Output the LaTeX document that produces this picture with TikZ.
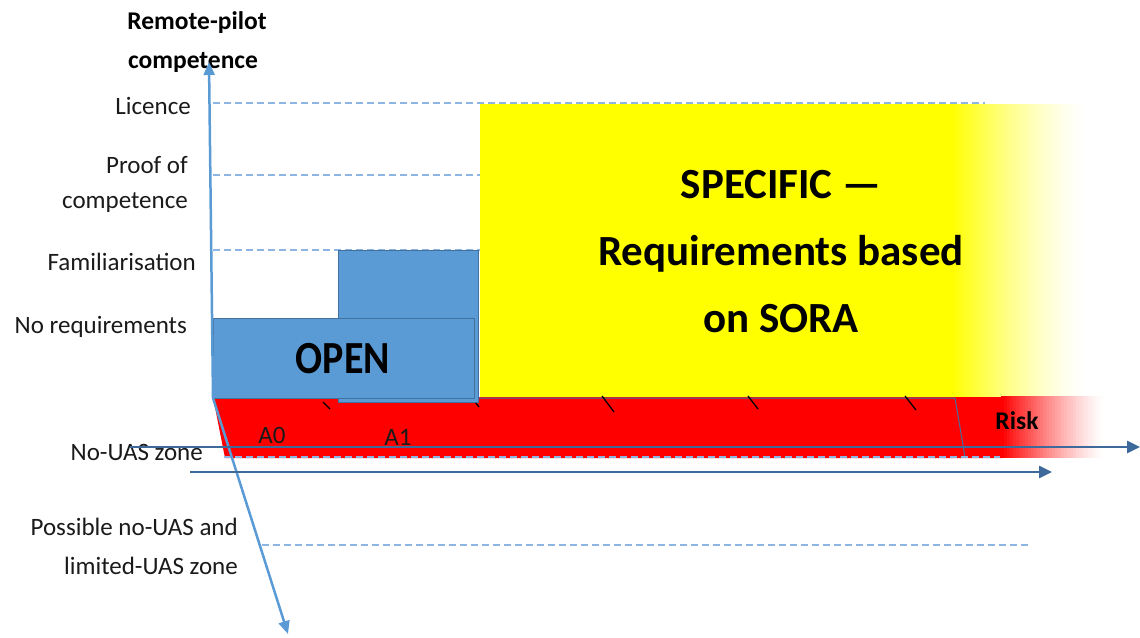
\documentclass[tikz,border=0pt]{standalone}
\usepackage{fontspec}
\setmainfont{Carlito}
\usetikzlibrary{arrows.meta}
\definecolor{boxblue}{HTML}{5B9BD5}
\definecolor{boxedge}{HTML}{41719C}
\definecolor{axisdark}{HTML}{3D6A9A}
\definecolor{axislight}{HTML}{5B9BD5}
\definecolor{dashblue}{HTML}{8DB4E2}
\definecolor{txt}{HTML}{1A1A1A}
\definecolor{syellow}{RGB}{255,255,0}
\definecolor{sred}{RGB}{255,0,0}
\tikzset{
  lbl/.style={font=\fontsize{25}{30}\selectfont, text=txt, inner sep=0pt},
  blbl/.style={font=\fontsize{25.5}{30}\selectfont\bfseries, text=black, inner sep=0pt},
  bigtxt/.style={font=\fontsize{43}{67}\selectfont\bfseries, text=black, inner sep=0pt, align=center},
  openbox/.style={draw=boxedge, fill=boxblue, line width=1.2pt, inner sep=0pt, anchor=north west},
  guide/.style={dashblue, line width=1.3pt, dash pattern=on 7pt off 4pt},
  lightaxis/.style={axislight, line width=2.5pt, -{Triangle[length=13pt,width=11pt]}},
  darkaxis/.style={axisdark, line width=2.5pt, -{Triangle[length=13pt,width=12pt]}},
  tick/.style={black, line width=1.3pt}
}
\begin{document}
\begin{tikzpicture}[x=1pt,y=-1pt]
\useasboundingbox (0,0) rectangle (1140,637);
% guide lines
\draw[guide] (213,103) -- (985,103);
\draw[guide] (213,175) -- (480,175);
\draw[guide] (213,250) -- (480,250);
% yellow SPECIFIC area
\fill[syellow] (480,104) rectangle (952,397);
\foreach \i in {0,...,45} {
  \pgfmathtruncatemacro{\pc}{100*(1-\i/45)^1.4}
  \fill[syellow!\pc!white] ({951+3*\i},104) rectangle ({954.6+3*\i},397);
}
% red risk band
\fill[sred] (213,397) -- (1002,397) -- (1002,458) -- (225,458) -- cycle;
\foreach \i in {0,...,34} {
  \pgfmathtruncatemacro{\pc}{100*(1-\i/34)^1.3}
  \fill[sred!\pc!white] ({1001+3*\i},396) rectangle ({1004.6+3*\i},458);
}
\draw[boxedge, line width=1pt] (213,398) -- (955,398) -- (965,457);
\draw[guide] (224,457) -- (1000,457);
\draw[guide] (262,545) -- (1028,545);
% ticks
\draw[tick] (323,402) -- (330,409);
\draw[tick] (475,402) -- (479,407);
\draw[tick] (602,396) -- (614,412);
\draw[tick] (748,396) -- (758,409);
\draw[tick] (905,396) -- (916,410);
% OPEN boxes
\node (a1box) [openbox, minimum width=140pt, minimum height=152pt] at (338,250) {};
\node (a0box) [openbox, minimum width=261pt, minimum height=80pt] at (213,318) {};
\node (open) [font=\fontsize{40}{46}\selectfont\bfseries, inner sep=0pt, yscale=1.15] at (343,359) {OPEN};
% SPECIFIC text
\node (spec) [bigtxt] at (781,252) {SPECIFIC —\\Requirements based\\on SORA};
% axis labels
\node (rp1) [blbl] at (197,23) {Remote-pilot};
\node (rp2) [blbl] at (193,62) {competence};
\node (lic) [lbl, anchor=east] at (191,106) {Licence};
\node (poc1) [lbl, anchor=east] at (188,165) {Proof of};
\node (poc2) [lbl, anchor=east] at (188,203) {competence};
\node (fam) [lbl, anchor=east] at (196,262) {Familiarisation};
\node (noreq) [lbl, anchor=east] at (187,327) {No requirements};
\node (nouas) [lbl, anchor=east] at (203,452) {No-UAS zone};
\node (pos1) [lbl, anchor=east] at (238,527) {Possible no-UAS and};
\node (pos2) [lbl, anchor=east] at (238,566) {limited-UAS zone};
\node (a0) [lbl] at (272,435) {A0};
\node (a1) [lbl] at (398,437) {A1};
\node (risk) [blbl] at (1017,421) {Risk};
% axes
\coordinate (O) at (213,398);
\coordinate (ytip) at (209,62);
\coordinate (dtip) at (288,634);
\coordinate (h1s) at (130,447);
\coordinate (h1e) at (1140,447);
\coordinate (h2s) at (190,472);
\coordinate (h2e) at (1052,472);
\draw[lightaxis] (O) -- (ytip);
\draw[lightaxis] (O) -- (dtip);
\draw[darkaxis] (h1s) -- (h1e);
\draw[darkaxis] (h2s) -- (h2e);
\end{tikzpicture}
\end{document}
